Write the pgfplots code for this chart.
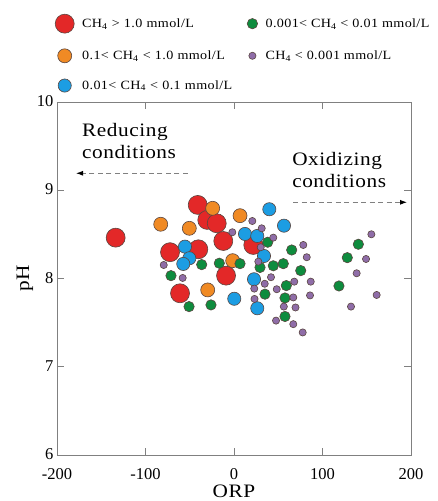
\documentclass[border=0pt]{standalone}
\usepackage{pgfplots}
\pgfplotsset{compat=1.18}
\usepackage{fontspec}
\setmainfont{Liberation Serif}[FakeStretch=1.12,LetterSpace=3]
\newfontfamily\tickfont{Liberation Serif}
\usetikzlibrary{arrows.meta}
\definecolor{cred}{HTML}{E32828}
\definecolor{corange}{HTML}{F08A24}
\definecolor{cblue}{HTML}{1C9DE3}
\definecolor{cgreen}{HTML}{0E8C3E}
\definecolor{cpurple}{HTML}{8F6DA8}
\definecolor{cedge}{HTML}{5A4640}
\definecolor{axgray}{HTML}{808080}

\pgfplotstableread{
x y
-133.7 8.465
-72.3 8.30
-61.0 7.834
-41.0 8.836
-30.2 8.666
-19.5 8.628
-12.1 8.427
21.8 8.382
-40.3 8.333
-9.0 8.034
}\redtab
\pgfplotstableread{
x y
-82.8 8.617
-24.1 8.798
6.8 8.714
-50.5 8.571
-1.5 8.204
-29.7 7.872
}\orangetab
\pgfplotstableread{
x y
39.9 8.787
12.4 8.507
26.3 8.484
56.5 8.601
-55.4 8.363
-50.5 8.231
-57.3 8.167
33.9 8.257
22.6 7.993
0.3 7.772
26.3 7.664
}\bluetab
\pgfplotstableread{
x y
-71.2 8.034
38.1 8.413
-36.5 8.159
-16.6 8.175
6.8 8.170
29.4 8.127
44.4 8.146
55.7 8.170
35.0 7.824
59.1 7.921
57.6 7.781
-50.8 7.683
-26.0 7.702
57.6 7.571
140.5 8.390
65.2 8.325
128.0 8.238
75.4 8.091
118.6 7.917
}\greentab
\pgfplotstableread{
x y
-79.4 8.155
20.7 8.654
-1.9 8.526
31.3 8.571
44.4 8.465
30.2 8.356
27.5 8.193
-58.0 8.008
41.8 8.016
34.7 7.942
22.9 7.887
48.3 7.880
23.2 7.770
56.3 7.683
47.5 7.524
155.2 8.503
78.3 8.382
82.2 8.243
149.2 8.223
138.6 8.061
68.1 7.966
86.7 7.966
67.0 7.787
85.9 7.810
161.2 7.815
69.5 7.673
132.2 7.683
67.0 7.484
77.6 7.390
}\purpletab

\begin{document}
\begin{tikzpicture}
\useasboundingbox (0,0) rectangle (437pt,501pt);
\begin{axis}[
  at={(57pt,46pt)}, anchor=south west,
  scale only axis, width=354pt, height=352.7pt,
  xmin=-200, xmax=200, ymin=6, ymax=10,
  xtick={-200,-100,0,100,200}, ytick={6,7,8,9,10},
  tick align=inside, major tick length=7pt,
  axis line style={axgray, line width=0.9pt},
  every tick/.style={axgray, line width=0.9pt},
  tick label style={font=\tickfont\fontsize{16.5}{16.5}\selectfont},
  xticklabel style={yshift=-10pt},
  yticklabel style={yshift=1pt},
  /pgf/number format/assume math mode=true,
  xlabel={ORP}, ylabel={pH},
  label style={font=\fontsize{19}{19}\selectfont},
  xlabel style={at={(axis description cs:0.5,-0.103)}, anchor=center},
  ylabel style={at={(axis description cs:-0.0904,0.5)}, anchor=center},
  clip=false,
  legend image code/.code={\draw[#1] plot coordinates {(0pt,0pt)};},
  legend columns=2,
  legend cell align=left,
  legend style={at={(axis description cs:-0.0056,1.2504)}, anchor=north west,
    draw=none, fill=none, inner sep=0pt, row sep=15.5pt,
    font=\fontsize{12.6}{14}\selectfont,
    /tikz/column 2/.append style={text width=163pt},
    /tikz/every odd column/.append style={column sep=6pt}},
]
\addplot[only marks, mark=*, mark size=9.5pt, mark options={fill=cred, draw=cedge, line width=0.6pt}, forget plot] table {\redtab};
\addplot[only marks, mark=*, mark size=7pt, mark options={fill=corange, draw=cedge, line width=0.6pt}, forget plot] table {\orangetab};
\addplot[only marks, mark=*, mark size=6.6pt, mark options={fill=cblue, draw=cedge, line width=0.6pt}, forget plot] table {\bluetab};
\addplot[only marks, mark=*, mark size=5.2pt, mark options={fill=cgreen, draw=cedge, line width=0.6pt}, forget plot] table {\greentab};
\addplot[only marks, mark=*, mark size=3.6pt, mark options={fill=cpurple, draw=cedge, line width=0.6pt}, forget plot] table {\purpletab};

\addlegendimage{mark=*, mark size=9.5pt, mark options={fill=cred, draw=cedge, line width=0.6pt}}
\addlegendentry{CH\textsubscript{4} > 1.0 mmol/L}
\addlegendimage{mark=*, mark size=5.2pt, mark options={fill=cgreen, draw=cedge, line width=0.6pt}}
\addlegendentry{0.001< CH\textsubscript{4} < 0.01 mmol/L}
\addlegendimage{mark=*, mark size=7pt, mark options={fill=corange, draw=cedge, line width=0.6pt}}
\addlegendentry{0.1< CH\textsubscript{4} < 1.0 mmol/L}
\addlegendimage{mark=*, mark size=3.6pt, mark options={fill=cpurple, draw=cedge, line width=0.6pt}}
\addlegendentry{CH\textsubscript{4} < 0.001 mmol/L}
\addlegendimage{mark=*, mark size=6.6pt, mark options={fill=cblue, draw=cedge, line width=0.6pt}}
\addlegendentry{0.01< CH\textsubscript{4} < 0.1 mmol/L}

\node[anchor=west, align=left, font=\fontsize{19}{22}\selectfont, inner sep=0pt] at (axis cs:-171.8,9.561) {Reducing\\conditions};
\node[anchor=west, align=left, font=\fontsize{19}{22}\selectfont, inner sep=0pt] at (axis cs:65.6,9.227) {Oxidizing\\conditions};
\draw[axgray, line width=0.9pt, dash pattern=on 5pt off 3.5pt, -{Latex[length=7pt,width=5pt,black]}] (axis cs:-52,9.195) -- (axis cs:-178.5,9.195);
\draw[axgray, line width=0.9pt, dash pattern=on 5pt off 3.5pt, -{Latex[length=7pt,width=5pt,black]}] (axis cs:66.7,8.866) -- (axis cs:195.5,8.866);
\end{axis}
\end{tikzpicture}
\end{document}
